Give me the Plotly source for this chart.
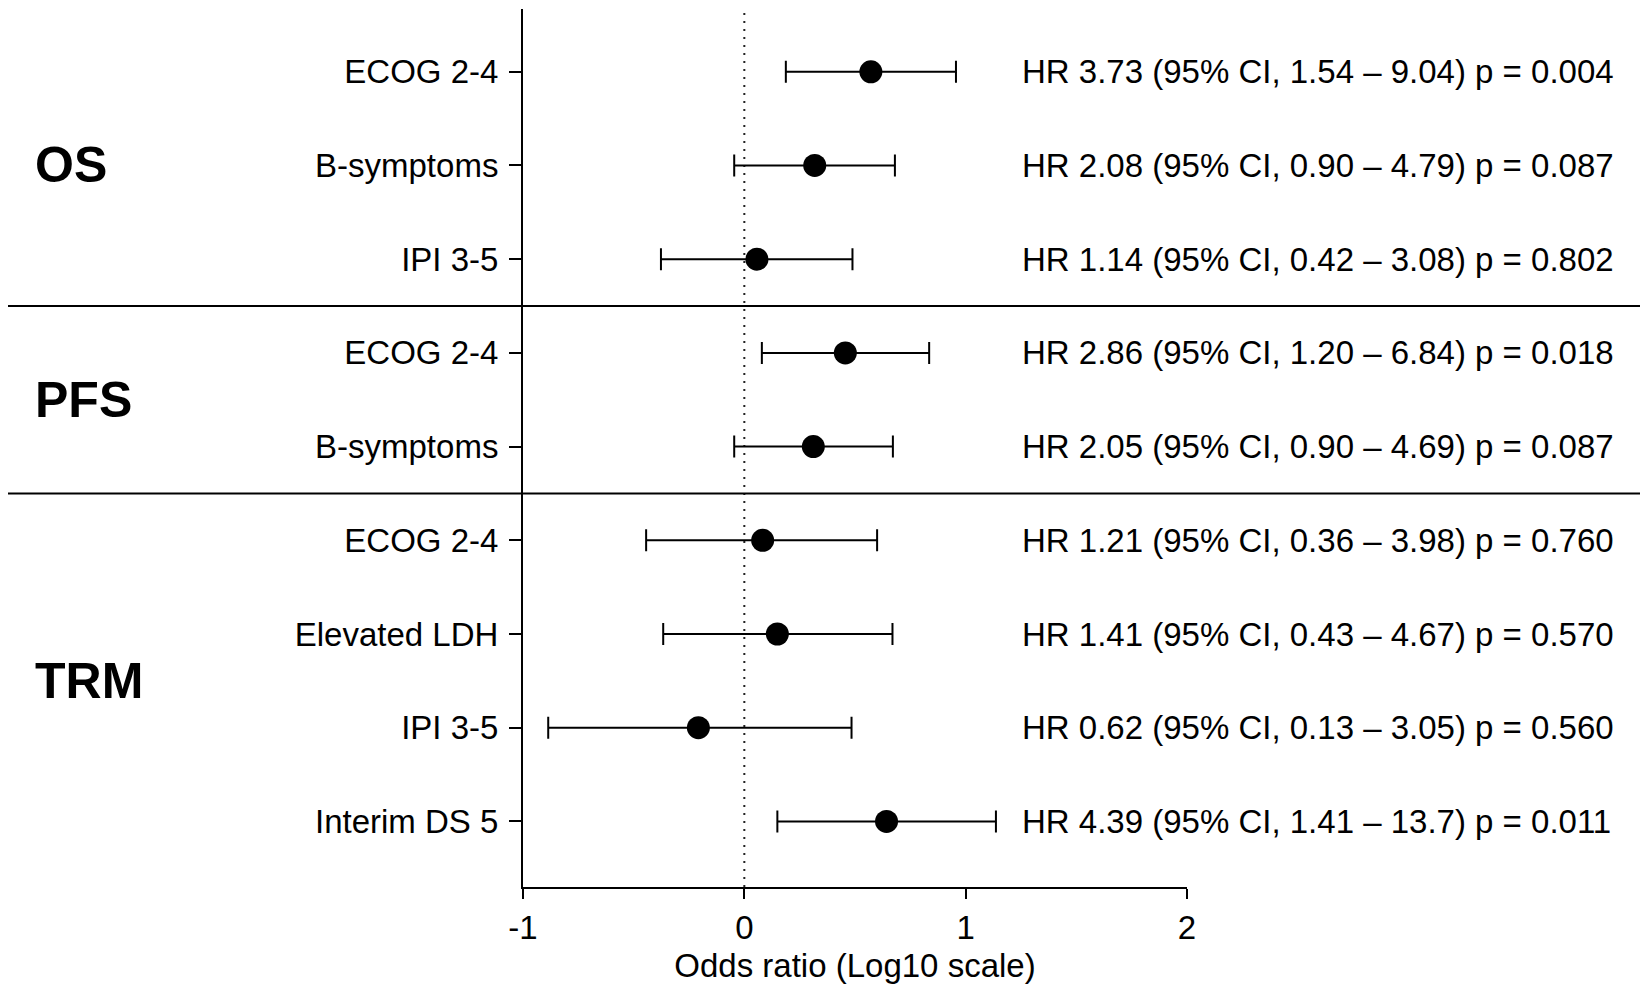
import numpy as np
import plotly.graph_objects as go

# rows, top to bottom
factors = ["ECOG 2-4", "B-symptoms", "IPI 3-5",
           "ECOG 2-4", "B-symptoms",
           "ECOG 2-4", "Elevated LDH", "IPI 3-5", "Interim DS 5"]
hr = [3.73, 2.08, 1.14, 2.86, 2.05, 1.21, 1.41, 0.62, 4.39]
ci_lo = [1.54, 0.90, 0.42, 1.20, 0.90, 0.36, 0.43, 0.13, 1.41]
ci_hi = [9.04, 4.79, 3.08, 6.84, 4.69, 3.98, 4.67, 3.05, 13.7]
p_val = ["0.004", "0.087", "0.802", "0.018", "0.087", "0.760", "0.570", "0.560", "0.011"]

groups = ["OS", "PFS", "TRM"]
group_rows = [[0, 1, 2], [3, 4], [5, 6, 7, 8]]

FONT = "Liberation Sans, Arial, sans-serif"
W, H = 1648, 994
L, R, T, B = 515, 469, 1, 115
pw = W - L - R


def fmt(v):
    return f"{v:.1f}" if v >= 10 else f"{v:.2f}"


rows = np.arange(len(factors))
x = np.log10(hr)
ex_plus = np.log10(ci_hi) - x
ex_minus = x - np.log10(ci_lo)

fig = go.Figure()
fig.add_trace(go.Scatter(
    x=x, y=rows, mode="markers",
    marker=dict(color="black", size=23),
    error_x=dict(type="data", symmetric=False, array=ex_plus, arrayminus=ex_minus,
                 color="black", thickness=2, width=11),
    showlegend=False, cliponaxis=False))

# zero reference line
fig.add_shape(type="line", xref="x", yref="paper", x0=0, x1=0, y0=0, y1=1,
              line=dict(color="#222222", width=2, dash="2px,6px"), layer="below")

# group separators
for i in range(len(group_rows) - 1):
    ysep = (group_rows[i][-1] + group_rows[i + 1][0]) / 2
    fig.add_shape(type="line", xref="paper", yref="y",
                  x0=(0 - L) / pw, x1=(1636 - L) / pw, y0=ysep, y1=ysep,
                  line=dict(color="black", width=2))

# group labels
for g, rr in zip(groups, group_rows):
    fig.add_annotation(text=f"<b>{g}</b>", xref="paper", yref="y",
                       x=(25 - L) / pw, y=np.mean(rr), xanchor="left", yanchor="middle",
                       showarrow=False, font=dict(family=FONT, size=50, color="black"))

# HR text on the right
for i in rows:
    txt = f"HR {hr[i]:.2f} (95% CI, {fmt(ci_lo[i])} \u2013 {fmt(ci_hi[i])}) p = {p_val[i]}"
    fig.add_annotation(text=txt, xref="paper", yref="y",
                       x=(1012 - L) / pw, y=i, xanchor="left", yanchor="middle",
                       showarrow=False, font=dict(family=FONT, size=33, color="black"))

fig.update_layout(
    width=W, height=H,
    margin=dict(l=L, r=R, t=T, b=B),
    plot_bgcolor="white", paper_bgcolor="white",
    font=dict(family=FONT, size=33, color="black"),
    xaxis=dict(range=[-1, 2], tickvals=[-1, 0, 1, 2], ticktext=["-1", "0", "1", "2"],
               showline=True, linecolor="black", linewidth=2,
               ticks="outside", ticklen=10, tickwidth=2, tickcolor="black",
               showgrid=False, zeroline=False,
               title=dict(text="Odds ratio (Log10 scale)", standoff=9,
                          font=dict(family=FONT, size=33, color="black"))),
    yaxis=dict(range=[8.7, -0.67], tickvals=list(rows), ticktext=factors,
               showline=True, linecolor="black", linewidth=2,
               ticks="outside", ticklen=12, tickwidth=2, tickcolor="black",
               showgrid=False, zeroline=False, ticklabelstandoff=4),
)

fig.write_html("out.html")
